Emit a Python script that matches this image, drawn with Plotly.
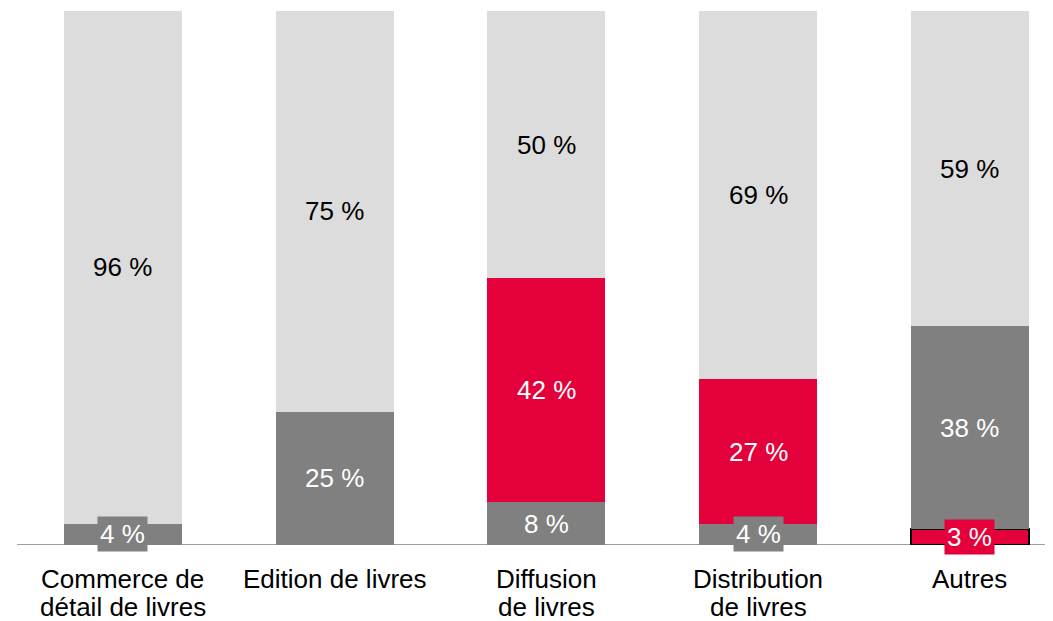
import plotly.graph_objects as go

categories = ["Commerce de<br>détail de livres", "Edition de livres", "Diffusion<br>de livres",
              "Distribution<br>de livres", "Autres"]
red_bottom = [0, 0, 0, 0, 3]
gray = [4, 25, 8, 4, 38]
red_mid = [0, 0, 42, 27, 0]
light = [96, 75, 50, 69, 59]

LIGHT = "#DCDCDC"
GRAY = "#808080"
RED = "#E4003A"
FONT = "Liberation Sans, Arial, sans-serif"

x = list(range(len(categories)))
fig = go.Figure()
series = [
    (red_bottom, RED, [0, 0, 0, 0, 2]),
    (gray, GRAY, 0),
    (red_mid, RED, 0),
    (light, LIGHT, 0),
]
for vals, col, lw in series:
    fig.add_trace(go.Bar(x=x, y=vals, marker=dict(color=col, line=dict(color="black", width=lw)),
                         width=0.557, hoverinfo="skip"))

annotations = []
for i in x:
    base = 0
    for vals, col, _ in series:
        v = vals[i]
        if v > 0:
            txtcol = "black" if col == LIGHT else "white"
            annotations.append(dict(x=i, y=base + v / 2, xref="x", yref="y", text=f"{v} %",
                                    showarrow=False, font=dict(size=26, color=txtcol, family=FONT),
                                    bgcolor=col, borderpad=2))
        base += v

# category labels, one annotation per line for tighter line spacing
line_y = [-0.0637, -0.1161]
for i, cat in enumerate(categories):
    for j, part in enumerate(cat.split("<br>")):
        annotations.append(dict(x=i, y=line_y[j], xref="x", yref="paper", text=part,
                                showarrow=False, yanchor="middle",
                                font=dict(size=26, color="black", family=FONT)))

fig.update_layout(
    barmode="stack", showlegend=False, width=1053, height=621,
    margin=dict(l=9, r=8, t=3, b=84),
    plot_bgcolor="white", paper_bgcolor="white",
    annotations=annotations, bargap=0,
    font=dict(family=FONT, size=26, color="black"),
)
fig.update_xaxes(range=[-0.5, 4.393], tickvals=x, showticklabels=False, showgrid=False,
                 zeroline=False, showline=False, ticks="", automargin=False)
fig.update_yaxes(range=[0, 100], visible=False, showgrid=False, zeroline=False)
fig.add_shape(type="line", xref="paper", yref="y", x0=0, x1=1, y0=0, y1=0,
              line=dict(color="#7F7F7F", width=1.5), layer="below")
fig.write_html("out.html")
